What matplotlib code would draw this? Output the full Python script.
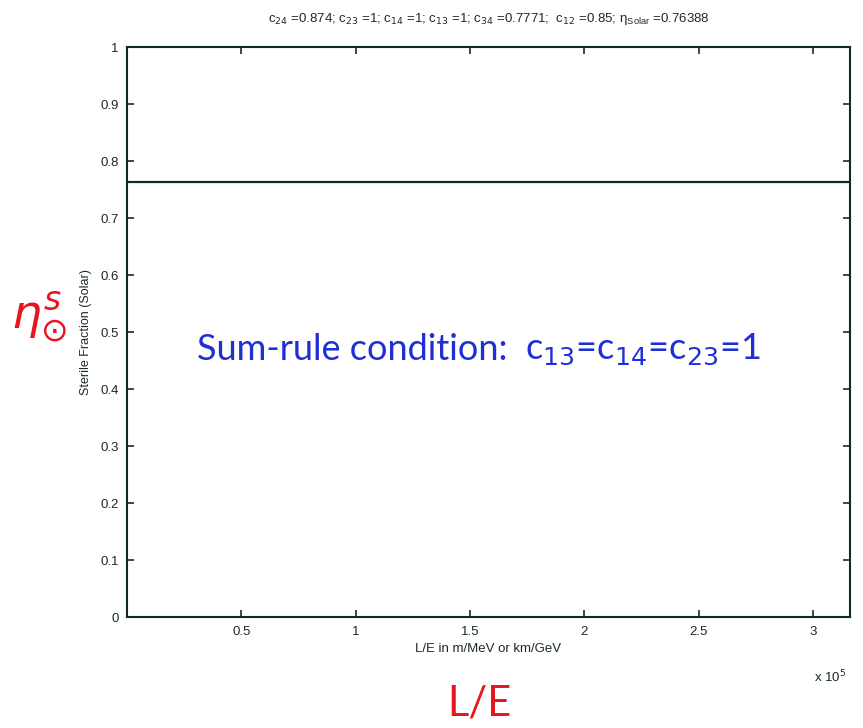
import matplotlib
matplotlib.use("Agg")
import matplotlib.pyplot as plt

# data
le_values = [0.0, 3.1623e5]          # L/E in m/MeV
sterile_fraction = [0.76388, 0.76388]  # eta_solar constant
x_ticks = [0.5e5, 1e5, 1.5e5, 2e5, 2.5e5, 3e5]
x_tick_labels = ["0.5", "1", "1.5", "2", "2.5", "3"]
y_ticks = [0, 0.1, 0.2, 0.3, 0.4, 0.5, 0.6, 0.7, 0.8, 0.9, 1]
y_tick_labels = ["0", "0.1", "0.2", "0.3", "0.4", "0.5", "0.6", "0.7", "0.8", "0.9", "1"]

plt.rcParams['font.family'] = ['Liberation Sans', 'DejaVu Sans']

fig = plt.figure(figsize=(8.63, 7.28), dpi=100)
ax = fig.add_axes([0.147, 0.152, 0.838, 0.783])
ax.plot(le_values, sterile_fraction, color='#0d2a26', lw=1.6)
ax.set_xlim(0, 3.1623e5)
ax.set_ylim(0, 1)
ax.set_xticks(x_ticks)
ax.set_xticklabels(x_tick_labels)
ax.set_yticks(y_ticks)
ax.set_yticklabels(y_tick_labels)
ax.tick_params(direction='in', length=5, width=1.2, top=True, right=True,
               labelsize=9.5, colors='#1a2a28', pad=6)
for s in ax.spines.values():
    s.set_linewidth(1.5)
    s.set_color('#0d2a26')

ax.set_xlabel("L/E in m/MeV or km/GeV", fontsize=9.5, labelpad=4, color='#1a2a28')
ax.set_ylabel("Sterile Fraction (Solar)", fontsize=9, labelpad=6, color='#1a2a28')
fig.text(0.962, 0.07, r"x 10$^5$", fontsize=9.5, ha='center', va='center', color='#1a2a28')

ax.set_title(r"c$_{24}$ =0.874; c$_{23}$ =1; c$_{14}$ =1; c$_{13}$ =1; c$_{34}$ =0.7771;  "
             r"c$_{12}$ =0.85; $\mathregular{\eta_{Solar}}$ =0.76388",
             fontsize=9.5, pad=18, color='#1a2a28')

# handwritten annotations
fig.text(0.228, 0.52, "Sum-rule condition: ", fontsize=26, color='#1f2fd6',
         family='Lato', ha='left', va='center')
fig.text(0.608, 0.52, r"c$_{13}$=c$_{14}$=c$_{23}$=1", fontsize=26, color='#1f2fd6',
         family='Lato', ha='left', va='center')
fig.text(0.045, 0.565, r"$\eta^{s}_{\odot}$", fontsize=34, color='#e8141e',
         ha='center', va='center')
fig.text(0.556, 0.033, "L/E", fontsize=30, color='#e8141e', family='Lato',
         ha='center', va='center')

fig.savefig("out.png", dpi=100)
